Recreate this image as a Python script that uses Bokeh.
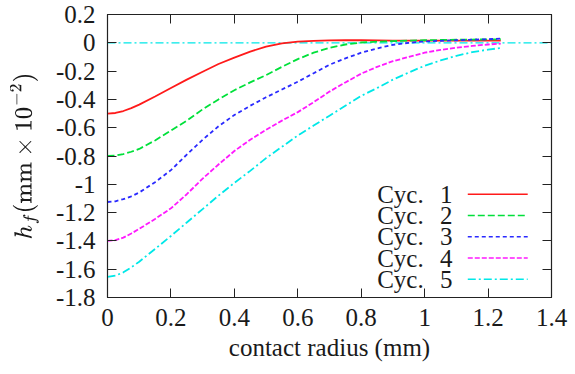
from bokeh.plotting import figure
from bokeh.models import LinearAxis, FixedTicker, Range1d, TeX
from bokeh.core.properties import value
from bokeh.embed import file_html
from bokeh.resources import INLINE

# ---- data ----
radius = [0.0, 0.025, 0.05, 0.075, 0.1, 0.15, 0.2, 0.25, 0.3, 0.35, 0.4, 0.45, 0.5, 0.55, 0.6,
          0.65, 0.7, 0.75, 0.8, 0.85, 0.9, 0.95, 1.0, 1.05, 1.1, 1.15, 1.2, 1.24]

cyc1 = [-0.50, -0.496, -0.482, -0.462, -0.437, -0.38, -0.32, -0.26, -0.205, -0.15, -0.105, -0.062, -0.027, -0.004, 0.008,
        0.014, 0.017, 0.018, 0.018, 0.017, 0.016, 0.016, 0.015, 0.015, 0.015, 0.015, 0.015, 0.015]
cyc2 = [-0.80, -0.797, -0.786, -0.770, -0.750, -0.69, -0.62, -0.55, -0.47, -0.40, -0.335, -0.28, -0.228, -0.17, -0.115,
        -0.07, -0.035, -0.012, 0.002, 0.008, 0.012, 0.015, 0.018, 0.020, 0.022, 0.023, 0.024, 0.025]
cyc3 = [-1.125, -1.12, -1.105, -1.085, -1.058, -0.985, -0.90, -0.79, -0.685, -0.59, -0.51, -0.445, -0.385, -0.33, -0.275,
        -0.215, -0.155, -0.11, -0.07, -0.04, -0.014, 0.0, 0.009, 0.014, 0.018, 0.022, 0.025, 0.03]
cyc4 = [-1.40, -1.395, -1.377, -1.348, -1.315, -1.245, -1.17, -1.07, -0.96, -0.86, -0.765, -0.685, -0.615, -0.55, -0.49,
        -0.42, -0.345, -0.28, -0.218, -0.17, -0.13, -0.10, -0.07, -0.05, -0.035, -0.022, -0.012, -0.006]
cyc5 = [-1.655, -1.646, -1.622, -1.587, -1.547, -1.457, -1.365, -1.27, -1.175, -1.08, -0.99, -0.905, -0.815, -0.735, -0.655,
        -0.585, -0.515, -0.445, -0.375, -0.32, -0.26, -0.21, -0.162, -0.125, -0.092, -0.066, -0.048, -0.037]

zero_x = [0.0, 1.4]
zero_y = [0.0, 0.0]

series_names = ["1", "2", "3", "4", "5"]
series = [cyc1, cyc2, cyc3, cyc4, cyc5]

x_ticks = [0, 0.2, 0.4, 0.6, 0.8, 1.0, 1.2, 1.4]
x_tick_labels = ["0", "0.2", "0.4", "0.6", "0.8", "1", "1.2", "1.4"]
y_ticks = [0.2, 0, -0.2, -0.4, -0.6, -0.8, -1.0, -1.2, -1.4, -1.6, -1.8]
y_tick_labels = ["0.2", "0", "-0.2", "-0.4", "-0.6", "-0.8", "-1", "-1.2", "-1.4", "-1.6", "-1.8"]

# ---- styles ----
colors = ["#ff1a1a", "#00e03a", "#2a2aff", "#ff1aff", "#00e8e8"]
dashes = ["solid", "7 3", "4 3", "5 2", "8 3 2 3"]
FONT = "Liberation Serif"
FS = "25px"
TXT = "#1a1a1a"

p = figure(width=575, height=374, output_backend="svg", toolbar_location=None,
           x_range=Range1d(0, 1.4), y_range=Range1d(-1.8, 0.2),
           min_border_left=107, min_border_right=24, min_border_top=14, min_border_bottom=77)
p.background_fill_color = "white"
p.border_fill_color = "white"
p.outline_line_color = "#222222"
p.outline_line_width = 1.2
p.grid.visible = False

# zero line
p.line(zero_x, zero_y, line_color=colors[4], line_dash=dashes[4], line_width=1.2)

for ys, c, d in zip(series, colors, dashes):
    p.line(radius, ys, line_color=c, line_dash=d, line_width=1.8)

# legend (label left of sample line, as in gnuplot)
leg_y0 = -1.071
leg_dy = -0.15
for i, (name, c, d) in enumerate(zip(series_names, colors, dashes)):
    yy = leg_y0 + i * leg_dy
    p.line([1.136, 1.325], [yy, yy], line_color=c, line_dash=d, line_width=1.5)
    p.text(x=[0.997], y=[yy], text=["Cyc."], text_align="right", text_baseline="middle",
           text_font=value(FONT), text_font_size=FS, text_color=TXT)
    p.text(x=[1.088], y=[yy], text=[name], text_align="right", text_baseline="middle",
           text_font=value(FONT), text_font_size=FS, text_color=TXT)

# axes
for ax in (p.xaxis[0], p.yaxis[0]):
    ax.major_tick_in = 9
    ax.major_tick_out = 0
    ax.minor_tick_in = 0
    ax.minor_tick_out = 0
    ax.axis_line_color = "#222222"
    ax.major_tick_line_color = "#222222"
    ax.major_label_text_font = FONT
    ax.major_label_text_font_size = FS
    ax.major_label_text_color = TXT
    ax.axis_label_text_font = FONT
    ax.axis_label_text_font_size = FS
    ax.axis_label_text_font_style = "normal"
    ax.axis_label_text_color = TXT

p.xaxis[0].ticker = FixedTicker(ticks=x_ticks)
p.xaxis[0].major_label_overrides = dict(zip(x_ticks, x_tick_labels))
p.xaxis[0].major_label_standoff = 11
p.xaxis[0].axis_label = "contact radius (mm)"
p.xaxis[0].axis_label_standoff = 5

p.yaxis[0].ticker = FixedTicker(ticks=y_ticks)
p.yaxis[0].major_label_overrides = dict(zip(y_ticks, y_tick_labels))
p.yaxis[0].major_label_standoff = 12
p.yaxis[0].axis_label = TeX(text=r"h_f(\mathrm{mm}\times 10^{-2})")
p.yaxis[0].axis_label_text_font_size = "23px"
p.yaxis[0].axis_label_standoff = 14

# mirrored ticks on top and right
top = LinearAxis(ticker=FixedTicker(ticks=x_ticks), major_label_overrides={t: "" for t in x_ticks})
right = LinearAxis(ticker=FixedTicker(ticks=y_ticks), major_label_overrides={t: "" for t in y_ticks})
for ax in (top, right):
    ax.major_tick_in = 9
    ax.major_tick_out = 0
    ax.minor_tick_in = 0
    ax.minor_tick_out = 0
    ax.axis_line_color = "#222222"
    ax.major_tick_line_color = "#222222"
    ax.major_label_standoff = 0
    ax.major_label_text_font_size = "1px"
p.add_layout(top, "above")
p.add_layout(right, "right")

open("out.html", "w").write(file_html(p, INLINE))
